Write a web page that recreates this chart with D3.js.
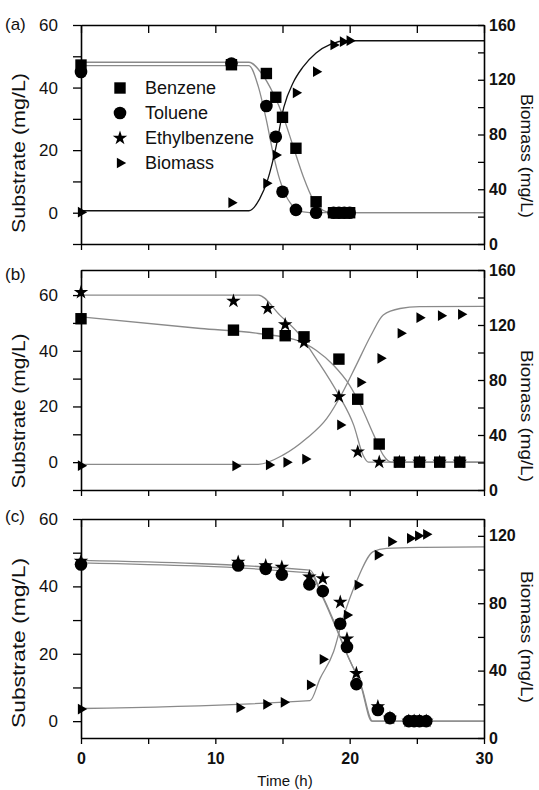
<!DOCTYPE html>
<html>
<head>
<meta charset="utf-8">
<script src="https://cdn.jsdelivr.net/npm/d3@7"></script>
<style>
body { margin: 0; background: #fff; }
text { font-family: "Liberation Sans", Arial, sans-serif; fill: #111; }
</style>
</head>
<body>
<div class="chart"></div>
<script>
// ---------- panel (a) ----------
var aBenzT = [0, 11.2, 13.8, 14.5, 15.0, 16.0, 17.5, 18.8, 19.2, 19.6, 20.0];
var aBenzV = [47.2, 47.3, 44.5, 36.9, 30.5, 20.6, 3.5, 0, 0, 0, 0];
var aToluT = [0, 11.2, 13.8, 14.5, 15.0, 16.0, 17.5, 18.8, 19.2, 19.6, 20.0];
var aToluV = [45, 47.7, 34.1, 24.3, 6.7, 0.9, 0, 0, 0, 0, 0];
var aBioT = [0, 11.2, 13.8, 14.5, 16.0, 17.5, 18.8, 19.5, 20.0];
var aBioV = [23.2, 30.2, 44.3, 65, 110.5, 125.9, 145.4, 147.8, 148.5];
// model curves (a)
var aBenzFitT = [0, 12.5, 13.45, 14.3, 15.06, 15.8, 16.55, 17.3, 18.3, 19, 30];
var aBenzFitV = [48.1, 48.1, 44.5, 38.2, 30.7, 21.1, 11.5, 4, 0.3, 0, 0];
var aToluFitT = [0, 12.5, 13.2, 13.8, 14.3, 14.8, 15.6, 16.55, 17.5, 30];
var aToluFitV = [47.0, 47.0, 40.3, 29.6, 19, 10.5, 3, 0.3, 0, 0];
var aBioFitT = [0, 12.5, 13.3, 13.9, 14.5, 15.1, 15.8, 16.5, 17.5, 18.6, 19.8, 30];
var aBioFitV = [24.3, 24.3, 33, 47, 70, 100, 118, 129, 139.5, 146, 148.5, 148.5];

// ---------- panel (b) ----------
var bTime = [0, 11.35, 13.9, 15.2, 16.6, 19.2, 20.6, 22.2, 23.7, 25.2, 26.7, 28.2];
var bEthylV = [61, 57.8, 55.2, 49.4, 43, 23.5, 3.7, 0, 0, 0, 0, 0];
var bBenzV = [51.5, 47.4, 46.2, 45.4, 45, 37, 22.6, 6.5, 0, 0, 0, 0];
var bBioT = [0, 11.5, 14.0, 15.3, 16.7, 19.3, 20.8, 22.3, 23.8, 25.2, 26.8, 28.3];
var bBioV = [17.7, 17.5, 18.2, 20.1, 22.5, 47.3, 78.3, 95.8, 114, 125.3, 126.8, 127.8];
// model curves (b)
var bEthylFitT = [0, 13.2, 14.8, 16.3, 17.5, 19.2, 20.3, 21.0, 21.4, 30];
var bEthylFitV = [60, 60, 52.8, 45.6, 37.2, 24, 13.3, 2.5, 0, 0];
var bBenzFitT = [0, 8.9, 13.2, 16.3, 17.5, 18.8, 20.0, 20.8, 21.8, 22.5, 23.1, 30];
var bBenzFitV = [52.2, 48, 46.2, 43.4, 40.2, 34.8, 27.6, 20.5, 9.7, 2.5, 0, 0];
var bBioFitT = [0, 13.2, 15.06, 16.8, 18.3, 19.5, 20.5, 21.6, 22.5, 23.75, 25.2, 30];
var bBioFitV = [18.7, 18.7, 25.5, 37.6, 52.1, 71.5, 91, 112.7, 127.3, 132, 133.3, 133.5];

// ---------- panel (c) ----------
var cTime = [0, 11.7, 13.75, 14.95, 17.0, 18.0, 19.3, 19.8, 20.5, 22.1, 23.0, 24.4, 24.8, 25.2, 25.7];
var cToluV = [46.5, 46.2, 45.2, 43.5, 40.6, 38.6, 28.9, 22, 11, 3.3, 0.9, 0, 0, 0, 0];
var cEthylV = [47.5, 47.2, 46.2, 45.7, 42.8, 42.3, 35.3, 24.4, 14.2, 4.3, 0.9, 0, 0, 0, 0];
var cBioT = [0, 11.8, 13.8, 15.1, 17.05, 18.0, 19.8, 20.6, 22.1, 23.1, 24.5, 25.1, 25.7];
var cBioV = [17.2, 18, 20, 21.2, 31.5, 46.7, 73, 90.8, 108.6, 116.5, 118.5, 120, 120.9];
// model curves (c)
var cFit1T = [0, 17.05, 17.8, 18.8, 19.8, 20.8, 21.65, 30];
var cFit1V = [47.7, 44.8, 38.8, 29.9, 19.9, 11, 0, 0];
var cFit2T = [0, 17.05, 17.9, 18.9, 19.9, 20.9, 21.7, 30];
var cFit2V = [47.0, 44.0, 37.5, 28.5, 19.0, 10, 0, 0];
var cBioFitT = [0, 17.05, 17.8, 18.8, 19.5, 20.5, 21.75, 22.75, 25.5, 30];
var cBioFitV = [17.5, 22.2, 35.4, 51.2, 71, 92.8, 110.6, 112.6, 113.2, 113.5];

// ticks / labels
var xTicks = [0, 5, 10, 15, 20, 25, 30];
var xLabels = [0, 10, 20, 30];
var legendNames = ["Benzene", "Toluene", "Ethylbenzene", "Biomass"];
var legendSyms = ["square", "circle", "star", "tri"];

function pairs(t, v) {
    return t.map(function(d, i) { return [d, v[i]]; });
}

var symTypes = {
    square: [d3.symbolSquare, 130],
    circle: [d3.symbolCircle, 125],
    star: [d3.symbolStar, 65],
    tri: [d3.symbolTriangle, 50]
};
function symPath(name) {
    return d3.symbol().type(symTypes[name][0]).size(symTypes[name][1])();
}

var panels = [
    {tag: "(a)", tagY: 30, top: 25, bottom: 244, left: [-10, 60], right: [0, 160],
     leftTicks: d3.range(-10, 61, 10), rightTicks: d3.range(0, 161, 20), rightEvery: 40,
     sub: [153, 160], bio: [156, 124],
     fits: [
        {d: pairs(aBenzFitT, aBenzFitV), ax: "l", c: "#8a8a8a"},
        {d: pairs(aToluFitT, aToluFitV), ax: "l", c: "#8a8a8a"},
        {d: pairs(aBioFitT, aBioFitV), ax: "r", c: "#111"}],
     marks: [
        {d: pairs(aBenzT, aBenzV), ax: "l", s: "square"},
        {d: pairs(aToluT, aToluV), ax: "l", s: "circle"},
        {d: pairs(aBioT, aBioV), ax: "r", s: "tri"}]},
    {tag: "(b)", tagY: 280, top: 270, bottom: 490, left: [-10, 69], right: [0, 160],
     leftTicks: d3.range(-10, 61, 10), rightTicks: d3.range(0, 161, 20), rightEvery: 40,
     sub: [411, 155], bio: [416, 132],
     fits: [
        {d: pairs(bEthylFitT, bEthylFitV), ax: "l", c: "#8a8a8a"},
        {d: pairs(bBenzFitT, bBenzFitV), ax: "l", c: "#8a8a8a"},
        {d: pairs(bBioFitT, bBioFitV), ax: "r", c: "#8a8a8a"}],
     marks: [
        {d: pairs(bTime, bBenzV), ax: "l", s: "square"},
        {d: pairs(bTime, bEthylV), ax: "l", s: "star"},
        {d: pairs(bBioT, bBioV), ax: "r", s: "tri"}]},
    {tag: "(c)", tagY: 522, top: 519, bottom: 738, left: [-5, 60], right: [0, 130],
     leftTicks: d3.range(0, 61, 10), rightTicks: d3.range(0, 121, 20), rightEvery: 40,
     sub: [643, 170], bio: [637, 132], xlab: true,
     fits: [
        {d: pairs(cFit1T, cFit1V), ax: "l", c: "#8a8a8a"},
        {d: pairs(cFit2T, cFit2V), ax: "l", c: "#8a8a8a"},
        {d: pairs(cBioFitT, cBioFitV), ax: "r", c: "#8a8a8a"}],
     marks: [
        {d: pairs(cTime, cToluV), ax: "l", s: "circle"},
        {d: pairs(cTime, cEthylV), ax: "l", s: "star"},
        {d: pairs(cBioT, cBioV), ax: "r", s: "tri"}]}
];

var w = 539, h = 790;
var svg = d3.select(".chart").append("svg")
    .attr("width", w)
    .attr("height", h);

var x = d3.scaleLinear().domain([0, 30]).range([81, 484]);

panels.forEach(function(p) {
    var yl = d3.scaleLinear().domain(p.left).range([p.bottom, p.top]);
    var yr = d3.scaleLinear().domain(p.right).range([p.bottom, p.top]);
    var g = svg.append("g");

    // fitted curves
    p.fits.forEach(function(f) {
        var ys = f.ax == "l" ? yl : yr;
        var line = d3.line()
            .x(function(d) { return x(d[0]); })
            .y(function(d) { return ys(d[1]); })
            .curve(d3.curveMonotoneX);
        g.append("path")
            .attr("d", line(f.d))
            .attr("fill", "none")
            .attr("stroke", f.c)
            .attr("stroke-width", 1.3);
    });

    // data points
    p.marks.forEach(function(m) {
        var ys = m.ax == "l" ? yl : yr;
        g.selectAll(null)
            .data(m.d)
            .enter()
            .append("path")
            .attr("d", symPath(m.s))
            .attr("fill", "#000")
            .attr("transform", function(d) {
                return "translate(" + x(d[0]) + "," + ys(d[1]) + ")" + (m.s == "tri" ? " rotate(90)" : "");
            });
    });

    // axes
    var axL = g.append("g")
        .attr("transform", "translate(" + x(0) + ",0)")
        .call(d3.axisLeft(yl).tickValues(p.leftTicks).tickSize(8).tickSizeOuter(0).tickPadding(15)
            .tickFormat(function(d) { return (d >= 0 && d % 20 == 0) ? d : ""; }));
    axL.selectAll("text").style("font-size", "17px");

    var axR = g.append("g")
        .attr("transform", "translate(" + x(30) + ",0)")
        .call(d3.axisRight(yr).tickValues(p.rightTicks).tickSize(-6).tickSizeOuter(0).tickPadding(5)
            .tickFormat(function(d) { return d % p.rightEvery == 0 ? d : ""; }));
    axR.selectAll("text").style("font-size", "16px").style("font-weight", "bold");

    g.append("g")
        .attr("transform", "translate(0," + p.top + ")")
        .call(d3.axisTop(x).tickValues(xTicks).tickSize(-8).tickSizeOuter(0).tickFormat(""));

    var axB = g.append("g")
        .attr("transform", "translate(0," + p.bottom + ")")
        .call(d3.axisBottom(x).tickValues(xTicks).tickSize(6).tickSizeOuter(0).tickPadding(9)
            .tickFormat(function(d) { return (p.xlab && xLabels.indexOf(d) >= 0) ? d : ""; }));
    axB.selectAll("text").style("font-size", "16px").style("font-weight", "bold");

    g.selectAll(".domain").attr("stroke", "#000").attr("stroke-width", 1.6);
    g.selectAll(".tick line").attr("stroke", "#000").attr("stroke-width", 1.3);
    g.selectAll(".tick text").attr("fill", "#111");

    // panel tag
    g.append("text")
        .attr("x", 5)
        .attr("y", p.tagY)
        .style("font-size", "17px")
        .text(p.tag);

    // axis titles
    g.append("text")
        .attr("transform", "translate(25," + p.sub[0] + ") rotate(-90)")
        .attr("text-anchor", "middle")
        .attr("textLength", p.sub[1])
        .attr("lengthAdjust", "spacingAndGlyphs")
        .style("font-size", "19px")
        .text("Substrate (mg/L)");

    g.append("text")
        .attr("transform", "translate(521," + p.bio[0] + ") rotate(90)")
        .attr("text-anchor", "middle")
        .attr("textLength", p.bio[1])
        .attr("lengthAdjust", "spacingAndGlyphs")
        .style("font-size", "17px")
        .text("Biomass (mg/L)");
});

// legend in panel (a)
var legend = svg.selectAll("g.legend")
    .data(legendNames)
    .enter()
    .append("g")
    .attr("class", "legend")
    .attr("transform", function(d, i) { return "translate(120," + (88 + i * 25) + ")"; });

legend.append("path")
    .attr("d", function(d, i) { return symPath(legendSyms[i]); })
    .attr("fill", "#000")
    .attr("transform", function(d, i) { return legendSyms[i] == "tri" ? "rotate(90)" : ""; });

legend.append("text")
    .attr("x", 25)
    .attr("dy", "0.36em")
    .style("font-size", "18px")
    .text(function(d) { return d; });

// x-axis title
svg.append("text")
    .attr("x", 285)
    .attr("y", 786)
    .attr("text-anchor", "middle")
    .style("font-size", "15px")
    .text("Time (h)");
</script>
</body>
</html>
